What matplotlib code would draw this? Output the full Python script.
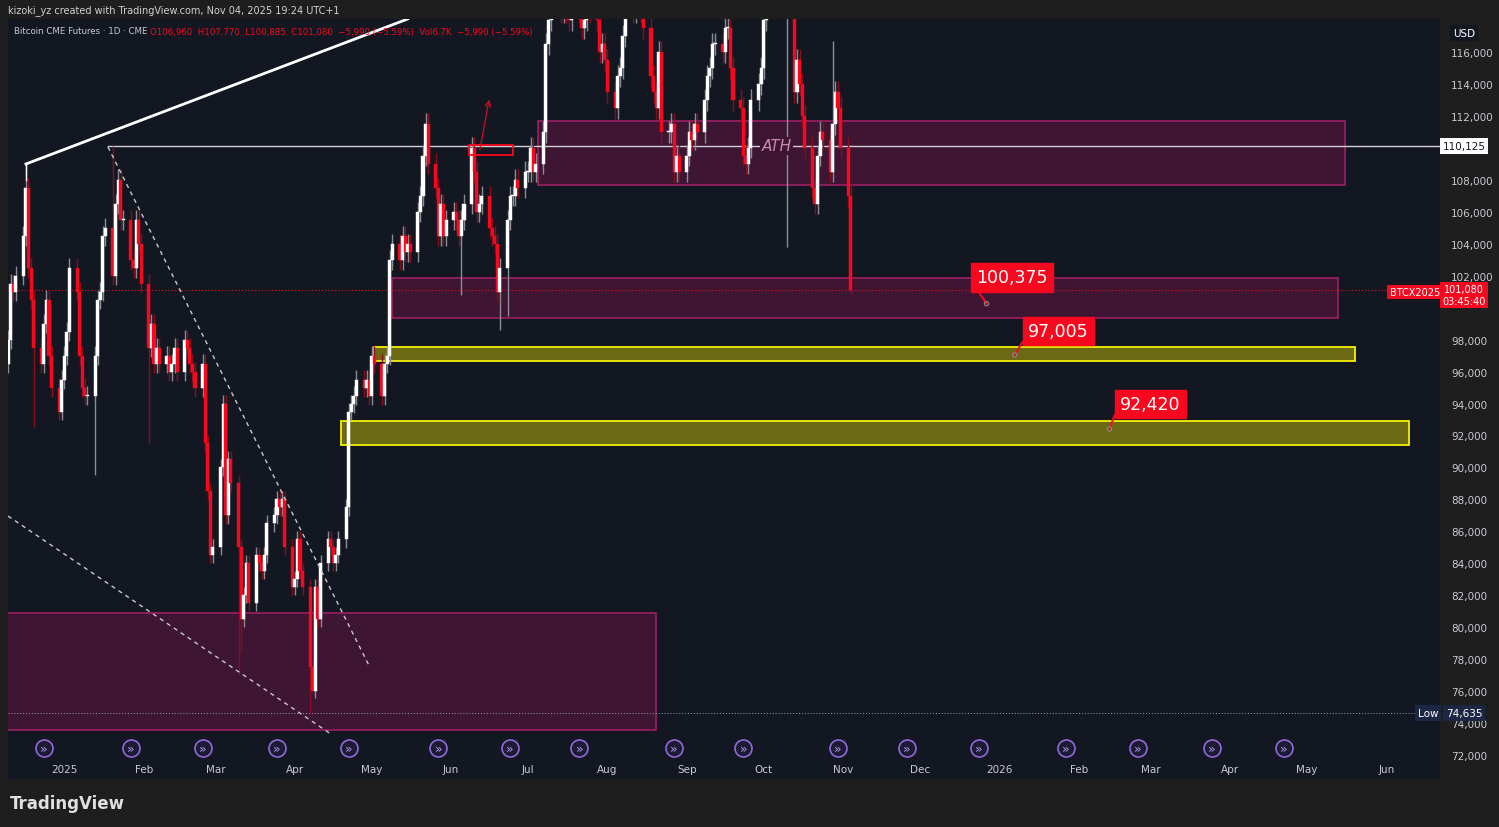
import matplotlib
matplotlib.use("Agg")
import matplotlib.pyplot as plt
import matplotlib.dates as mdates
import pandas as pd
import numpy as np
from matplotlib.patches import Rectangle

# ---- data (approximate daily closes) ----
months = [("2024-12-10", "2024-12-31"), ("2025-01-01", "2025-01-31"), ("2025-02-01", "2025-02-28"),
          ("2025-03-01", "2025-03-31"), ("2025-04-01", "2025-04-30"), ("2025-05-01", "2025-05-31"),
          ("2025-06-01", "2025-06-30"), ("2025-07-01", "2025-07-31"), ("2025-08-01", "2025-08-31"),
          ("2025-09-01", "2025-09-30"), ("2025-10-01", "2025-10-31"), ("2025-11-01", "2025-11-04")]
closes_dec = [98000, 101500, 101000, 102000, 104500, 107500, 102500, 100500, 97500, 96500, 99000, 100500, 97000, 95000, 93500, 95500]
closes_jan = [97000, 98500, 102500, 101000, 97000, 95000, 94500, 94500, 97000, 100500, 101000, 104500, 105000, 102000, 106500, 108000, 105500, 105500, 103000, 102500, 105500, 104000, 101500]
closes_feb = [97500, 99000, 96500, 97500, 96500, 97000, 96000, 96500, 97500, 96000, 98000, 97500, 96500, 96000, 95000, 96500, 91500, 88500, 84500, 85000]
closes_mar = [90000, 94000, 87000, 90500, 89000, 85000, 80500, 82000, 84000, 81500, 84500, 84000, 83500, 84500, 86500, 87000, 88000, 87500, 88000, 85000, 82500]
closes_apr = [83000, 85500, 83500, 82500, 77500, 76000, 82500, 80500, 84000, 85500, 85000, 84000, 84500, 85500, 87500, 93500, 94000, 94500, 95500, 95000, 95500, 94500]
closes_may = [97000, 96500, 94500, 96500, 97000, 103000, 104000, 103000, 104500, 103500, 104000, 103500, 106000, 107000, 109500, 111500, 109000, 107500, 104500, 106500, 104500, 105500]
closes_jun = [106000, 105500, 104500, 105500, 106500, 110000, 108500, 106000, 106500, 107000, 105000, 104500, 104000, 101000, 102500, 105500, 107000, 107000, 108000, 107500, 108500]
closes_jul = [108500, 110000, 108500, 109000, 111000, 116500, 118000, 120000, 119000, 118500, 120000, 118500, 118000, 119000, 118500, 117500, 118000, 119500, 118500, 118000, 116000, 116500, 115500]
closes_aug = [113500, 112500, 114500, 115000, 117000, 119000, 118500, 121000, 123500, 118500, 117500, 114500, 113500, 112500, 116000, 111000, 111000, 111500, 108500, 109500, 108500]
closes_sep = [109500, 111000, 110500, 111500, 111000, 113000, 114500, 115000, 116500, 116500, 116000, 117500, 117500, 115000, 113000, 112500, 109500, 109000, 110000, 113000, 114000, 115000]
closes_oct = [118000, 120500, 122500, 124000, 125000, 122000, 121500, 122500, 113500, 115500, 114000, 112000, 110000, 107500, 106500, 109500, 111000, 110500, 108500, 111500, 113500, 112500, 110000]
closes_nov = [106960, 101080]
all_closes = [closes_dec, closes_jan, closes_feb, closes_mar, closes_apr, closes_may, closes_jun,
              closes_jul, closes_aug, closes_sep, closes_oct, closes_nov]
low_overrides = {"2025-02-03": 91500, "2025-03-10": 77000, "2025-03-11": 78500, "2025-04-07": 74635,
                 "2025-04-08": 76500, "2025-06-05": 100800, "2025-06-20": 98600, "2025-06-23": 99500,
                 "2025-10-10": 103800, "2025-11-04": 100885, "2025-01-13": 89500, "2024-12-20": 92500}
high_overrides = {"2025-01-20": 110100, "2024-12-17": 109000, "2025-11-04": 107770, "2025-10-28": 116700}

dates, closes = [], []
for (a, b), cl in zip(months, all_closes):
    d = pd.bdate_range(a, b)
    n = min(len(d), len(cl))
    dates += list(d[:n]); closes += cl[:n]
opens = [closes[0] - 1500] + closes[:-1]
opens[-1] = 106960

zones_purple = [("2025-07-05", "2026-05-16", 107680, 111700), ("2025-05-09", "2026-05-13", 99350, 101850),
                ("2024-12-01", "2025-08-20", 73570, 80900)]
zones_yellow = [("2025-05-02", "2026-05-20", 96660, 97540), ("2025-04-19", "2026-06-10", 91400, 92900)]
# label, box-centre date, box-centre price, pointer date, pointer price
callouts = [("100,375", "2026-01-06", 101890, "2025-12-27", 100250),
            ("97,005", "2026-01-24", 98540, "2026-01-07", 97040),
            ("92,420", "2026-03-01", 93970, "2026-02-13", 92410)]
ath = 110125
last = 101080
low = 74635
price_ticks = [v for v in range(72000, 117000, 2000) if v not in (100000, 110000)]
event_dates = ["2024-12-24", "2025-01-27", "2025-02-24", "2025-03-25", "2025-04-22", "2025-05-27", "2025-06-24",
               "2025-07-21", "2025-08-27", "2025-09-23", "2025-10-30", "2025-11-26", "2025-12-24",
               "2026-01-27", "2026-02-24", "2026-03-25", "2026-04-22"]
month_labels = [("2025-01-01", "2025"), ("2025-02-01", "Feb"), ("2025-03-01", "Mar"), ("2025-04-01", "Apr"),
                ("2025-05-01", "May"), ("2025-06-01", "Jun"), ("2025-07-01", "Jul"), ("2025-08-01", "Aug"),
                ("2025-09-01", "Sep"), ("2025-10-01", "Oct"), ("2025-11-01", "Nov"), ("2025-12-01", "Dec"),
                ("2026-01-01", "2026"), ("2026-02-01", "Feb"), ("2026-03-01", "Mar"), ("2026-04-01", "Apr"),
                ("2026-05-01", "May"), ("2026-06-01", "Jun")]

# ---- figure ----
BG = "#131722"; FR = "#1e1e1e"
RED = "#f7081e"; WHITE = "#ffffff"
fig = plt.figure(figsize=(14.99, 8.28), dpi=100, facecolor=FR)
ax = fig.add_axes([8/1499, 1-780/828, (1440-8)/1499, 760/828])
ax.set_facecolor(BG)
D = lambda s: mdates.date2num(pd.Timestamp(s))
x0, x1 = D("2024-12-10"), D("2026-06-22")
ax.set_xlim(x0, x1)
ax.set_ylim(70500, 118065)

for a, b, lo, hi in zones_purple:
    ax.add_patch(Rectangle((D(a), lo), D(b)-D(a), hi-lo, facecolor="#3e1533", edgecolor="#9c1f63", lw=1.2, zorder=1))
for a, b, lo, hi in zones_yellow:
    ax.add_patch(Rectangle((D(a), lo), D(b)-D(a), hi-lo, facecolor="#6b6914", edgecolor="#f5f200", lw=1.3, zorder=1))

# candles
for d, o, c in zip(dates, opens, closes):
    x = mdates.date2num(d); key = d.strftime("%Y-%m-%d")
    up = c >= o
    top, bot = max(o, c), min(o, c)
    h = high_overrides.get(key, top + 0.006*top)
    l = low_overrides.get(key, bot - 0.006*bot)
    col = WHITE if up else RED
    wcol = "#8a8d96" if up else "#8c0d18"
    ax.vlines(x, l, h, color=wcol, lw=1, zorder=3)
    ax.add_patch(Rectangle((x-0.6, bot), 1.2, max(top-bot, 60), facecolor=col, edgecolor=col, lw=0.3, zorder=4))

# lines
ax.plot([D("2025-01-18"), x1], [ath, ath], color="#cfcfd4", lw=1, zorder=2)
ax.text(D("2025-10-06"), ath, "ATH", color="#c98aa8", fontsize=11, style="italic", ha="center", va="center",
        bbox=dict(facecolor="#3e1533", edgecolor="none", pad=1), zorder=5)
ax.axhline(last, color=RED, lw=0.8, ls=(0, (1, 2)), zorder=2)
ax.axhline(low, color="#9aa0b0", lw=0.7, ls=(0, (1, 2)), zorder=2)
ax.plot([D("2024-12-17"), D("2025-05-15")], [108990, 118065], color=WHITE, lw=2, zorder=6)
ax.plot([D("2024-12-17"), D("2024-12-17")], [108990, 108000], color=WHITE, lw=1, zorder=6)
ax.plot([D("2025-01-18"), D("2025-04-30")], [110060, 77580], color="#c8c8d0", lw=1, ls=(0, (3, 3)), zorder=6)
ax.plot([D("2024-12-10"), D("2025-04-15")], [86960, 73320], color="#c8c8d0", lw=1, ls=(0, (3, 3)), zorder=6)
ax.add_patch(Rectangle((D("2025-06-08"), 109550), D("2025-06-25")-D("2025-06-08"), 630, facecolor="none", edgecolor=RED, lw=1.3, zorder=6))
ax.annotate("", xy=(D("2025-06-16"), 113200), xytext=(D("2025-06-12"), 109700),
            arrowprops=dict(arrowstyle="->", color="#c0101e", lw=1), zorder=6)

for txt, tx, ty, px, py in callouts:
    ax.plot([D(px), D(tx)-14], [py, ty-700], color=RED, lw=1.5, zorder=7)
    ax.scatter(D(px), py, s=10, facecolor="none", edgecolor="#888888", lw=0.8, zorder=8)
    ax.text(D(tx), ty, txt, color=WHITE, fontsize=12.5, ha="center", va="center", zorder=8,
            bbox=dict(boxstyle="square,pad=0.3", facecolor=RED, edgecolor=RED))

# event icons
ev_y = 72440
for e in event_dates:
    ax.scatter(D(e), ev_y, s=150, facecolor="#1d1a33", edgecolor="#8f6ad8", lw=1.2, zorder=7)
    ax.text(D(e), ev_y, "»", color="#b79af0", fontsize=9, ha="center", va="center", zorder=8)

# axes styling
for s in ax.spines.values():
    s.set_visible(False)
ax.set_xticks([]); ax.yaxis.tick_right()
ax.set_yticks(price_ticks)
ax.set_yticklabels([f"{v:,}" for v in price_ticks], color="#c8cad0", fontsize=7.5)
ax.tick_params(axis="y", length=0, pad=8)
trans = ax.get_xaxis_transform()
for d, lab in month_labels:
    ax.text(D(d), 0.013, lab, transform=trans, color="#c8cad0", fontsize=7.5, ha="center", va="center")

# right-side price tags
def tag(y, txt, fc, tc, fs=7.5, x=1464):
    fig.text(x/1499, 1-y/828, txt, color=tc, fontsize=fs, ha="center", va="center",
             bbox=dict(boxstyle="square,pad=0.25", facecolor=fc, edgecolor="none"))
tag(147, "110,125", WHITE, "#131722")
tag(296, "101,080\n03:45:40", RED, WHITE, fs=7)
tag(293, "BTCX2025", RED, WHITE, fs=7, x=1415)
tag(714, "74,635", "#1b2744", WHITE)
tag(714, "Low", "#1b2744", WHITE, x=1428)
tag(34, "USD", "#131722", WHITE)

fig.text(8/1499, 1-11/828, "kizoki_yz created with TradingView.com, Nov 04, 2025 19:24 UTC+1", color="#d0d0d0", fontsize=7, va="center")
fig.text(14/1499, 1-32/828, "Bitcoin CME Futures · 1D · CME", color="#c8cad0", fontsize=6.2, va="center")
fig.text(150/1499, 1-32/828, "O106,960  H107,770  L100,885  C101,080  −5,990 (−5.59%)  Vol6.7K  −5,990 (−5.59%)",
         color=RED, fontsize=6.2, va="center")
fig.text(10/1499, 1-804/828, "TradingView", color="#e0e0e0", fontsize=12, fontweight="bold", va="center")

fig.savefig("out.png", dpi=100, facecolor=FR)
